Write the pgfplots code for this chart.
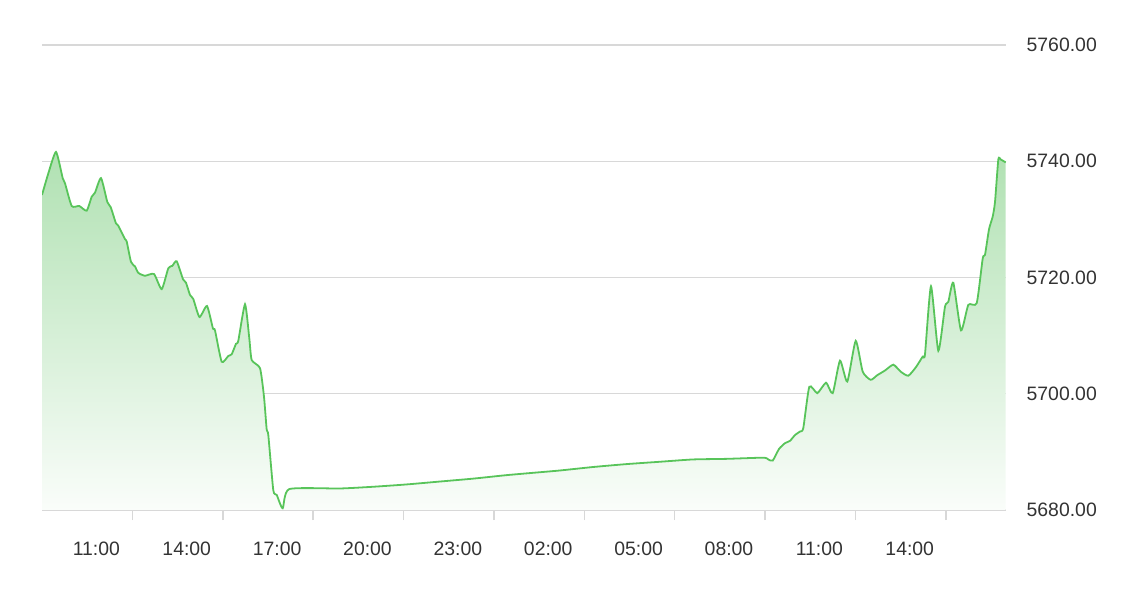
\documentclass[border=0pt]{standalone}
\usepackage{fontspec}
\setmainfont{Liberation Sans}
\usepackage{pgfplots}
\usepackage{pgfplotstable}
\pgfplotsset{compat=1.18}
\definecolor{linegreen}{RGB}{88,196,90}
\definecolor{filltop}{RGB}{176,225,178}
\definecolor{fillbot}{RGB}{250,253,250}
\definecolor{gridgray}{RGB}{216,216,216}
\definecolor{labelgray}{RGB}{51,51,51}
\pgfplotstableread{
h v
0.000 5734.2
0.209 5737.9
0.465 5741.6
0.687 5737.1
0.764 5736.2
0.986 5732.3
1.238 5732.3
1.484 5731.5
1.650 5733.9
1.759 5734.6
1.959 5737.1
2.168 5733.0
2.281 5732.1
2.456 5729.3
2.533 5728.9
2.755 5726.6
2.812 5726.2
2.954 5722.7
3.087 5721.9
3.197 5720.8
3.419 5720.3
3.718 5720.6
3.973 5718.0
4.193 5721.6
4.325 5722.0
4.471 5722.8
4.681 5719.7
4.780 5719.1
4.913 5717.0
5.022 5716.3
5.228 5713.2
5.477 5715.1
5.676 5711.2
5.743 5710.9
5.965 5705.5
6.184 5706.5
6.297 5706.8
6.440 5708.6
6.516 5709.1
6.739 5715.4
6.882 5709.5
6.961 5705.8
7.237 5704.4
7.369 5699.5
7.459 5693.8
7.512 5692.9
7.678 5683.4
7.791 5682.6
7.990 5680.3
8.209 5683.6
9.892 5683.7
10.998 5684.0
12.106 5684.4
13.212 5684.9
14.317 5685.4
15.426 5686.0
16.531 5686.5
17.195 5686.8
18.301 5687.4
19.409 5687.9
20.515 5688.3
21.620 5688.7
22.729 5688.8
23.944 5689.0
24.110 5688.7
24.256 5688.5
24.465 5690.5
24.664 5691.5
24.830 5691.9
24.996 5692.9
25.162 5693.5
25.271 5694.1
25.471 5701.2
25.736 5700.1
26.025 5701.9
26.247 5700.1
26.490 5705.7
26.732 5702.1
27.011 5709.1
27.243 5703.8
27.509 5702.4
27.728 5703.2
27.983 5704.0
28.259 5705.0
28.505 5703.8
28.757 5703.1
29.013 5704.6
29.235 5706.4
29.311 5706.8
29.510 5718.5
29.753 5707.4
29.975 5715.0
30.085 5715.8
30.251 5719.1
30.506 5710.9
30.749 5715.3
31.028 5715.6
31.227 5723.3
31.303 5723.9
31.436 5728.3
31.559 5730.5
31.635 5733.0
31.745 5740.3
31.824 5740.3
31.990 5739.8
}\pricedata
\begin{document}
\fontsize{19.4bp}{23bp}\selectfont
\begin{tikzpicture}
\useasboundingbox (0,0) rectangle (1146bp,610bp);
\begin{axis}[
  at={(42bp,100bp)}, anchor=south west,
  scale only axis, width=964bp, height=465bp,
  xmin=0, xmax=32, ymin=5680, ymax=5760,
  axis x line*=bottom, axis y line*=right,
  x axis line style={draw=gridgray, line width=1.5bp, -},
  y axis line style={draw=none},
  xtick={3,6,9,12,15,18,21,24,27,30},
  xticklabels={11:00,14:00,17:00,20:00,23:00,02:00,05:00,08:00,11:00,14:00},
  xtick align=outside,
  major tick length=10bp,
  xtick style={draw=gridgray, line width=1.5bp},
  ytick={5680,5700,5720,5740,5760},
  ytick style={draw=none},
  ymajorgrids,
  grid style={draw=gridgray, line width=1.4bp},
  yticklabel style={anchor=west, xshift=14bp, text=labelgray, font=\fontsize{19.4bp}{23bp}\selectfont},
  xticklabel style={xshift=-36bp, yshift=-15bp, text=labelgray, font=\fontsize{19.4bp}{23bp}\selectfont},
  yticklabel={\pgfmathprintnumber[fixed,fixed zerofill,precision=2,1000 sep={}]{\tick}},
  /pgf/number format/assume math mode=true,
  clip=true,
]
\addplot[draw=none, shading=axis, top color=filltop, bottom color=fillbot, smooth, tension=0.35] table[x=h,y=v]{\pricedata} \closedcycle;
\addplot[draw=linegreen, line width=1.8bp, smooth, tension=0.35] table[x=h,y=v]{\pricedata};
\end{axis}
\end{tikzpicture}
\end{document}
